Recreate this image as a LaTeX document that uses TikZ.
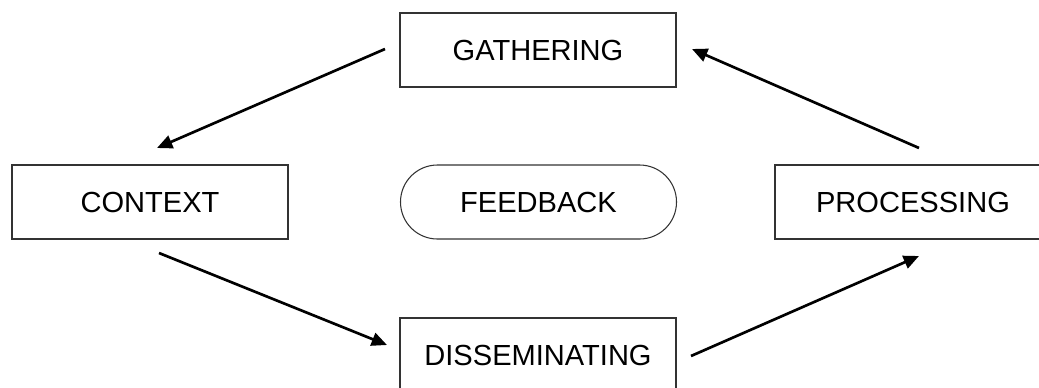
\documentclass[tikz,border=0pt]{standalone}
\usepackage{fontspec}
\setmainfont{Liberation Sans}
\usetikzlibrary{arrows.meta}
\begin{document}
\begin{tikzpicture}[x=0.75pt,y=-0.75pt,
  stagebox/.style={draw=black!80,line width=0.8pt,minimum width=207pt,minimum height=55.5pt,inner sep=0pt,
    font=\fontsize{21.8}{26}\selectfont},
  pillbox/.style={stagebox,rounded corners=27.7pt},
  flow/.style={line width=2pt,-{Triangle[length=11.5pt,width=10pt]}}]
\useasboundingbox (0,0) rectangle (1039,387);
\node[stagebox] (gat) at (538,50) {GATHERING};
\node[stagebox] (con) at (150,202) {CONTEXT};
\node[pillbox] (fee) at (538.5,202) {FEEDBACK};
\node[stagebox] (pro) at (913,202) {PROCESSING};
\node[stagebox] (dis) at (538,355) {DISSEMINATING};
\coordinate (a1s) at (385,49);
\coordinate (a1e) at (157,148);
\coordinate (a2s) at (159,253);
\coordinate (a2e) at (387,345);
\coordinate (a3s) at (691,356);
\coordinate (a3e) at (919,256);
\coordinate (a4s) at (919,148);
\coordinate (a4e) at (692,49);
\draw[flow] (a1s) -- (a1e);
\draw[flow] (a2s) -- (a2e);
\draw[flow] (a3s) -- (a3e);
\draw[flow] (a4s) -- (a4e);
\end{tikzpicture}
\end{document}
